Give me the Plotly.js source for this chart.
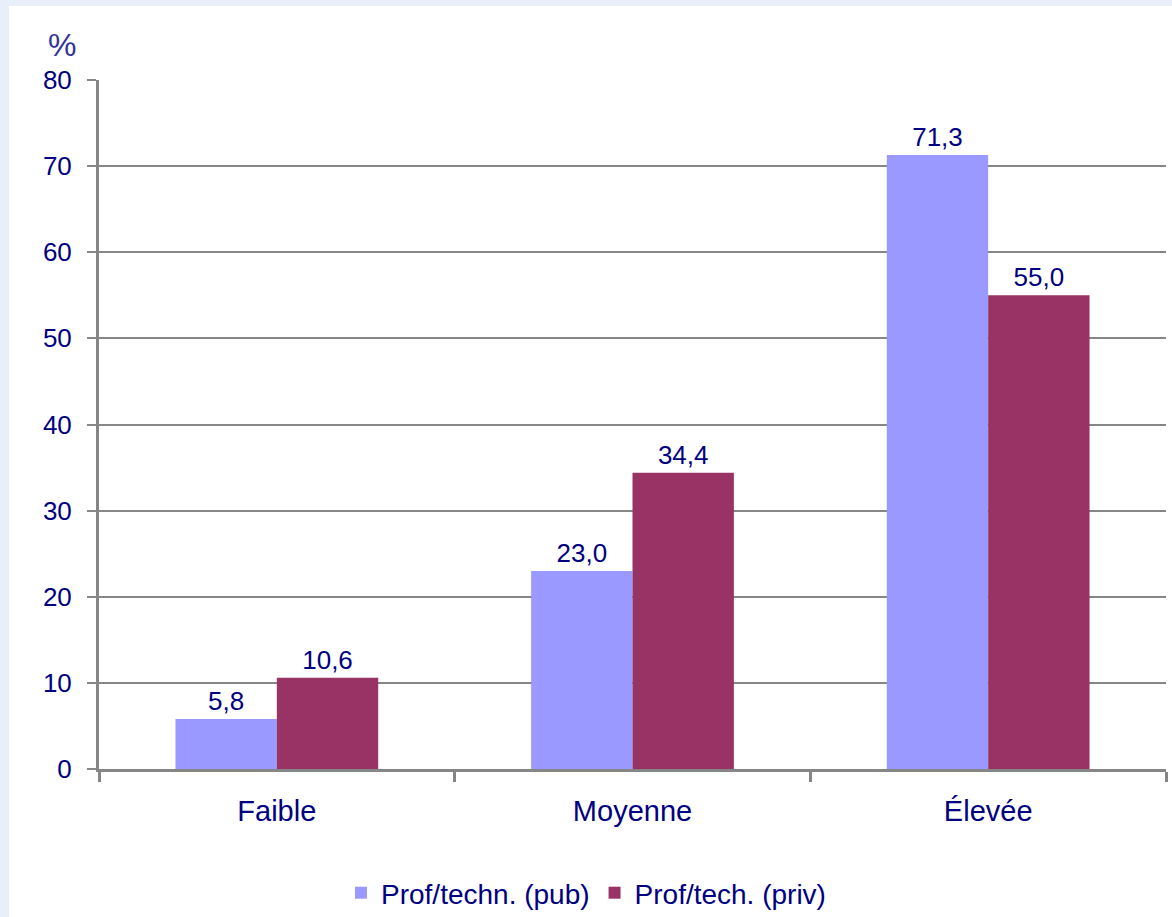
<!DOCTYPE html>
<html><head><meta charset="utf-8">
<script src="https://cdn.plot.ly/plotly-3.0.1.min.js"></script>
<style>body{margin:0;padding:0;background:#E8EEFA}</style>
</head><body>
<div id="chart" style="width:1172px;height:917px"></div>
<script>
const categories = ["Faible", "Moyenne", "Élevée"];
const seriesNames = ["Prof/techn. (pub)", "Prof/tech. (priv)"];
const pubValues = [5.8, 23.0, 71.3];
const privValues = [10.6, 34.4, 55.0];
const yTicks = [0, 10, 20, 30, 40, 50, 60, 70, 80];

const navy = "#000080";
const fam = "Liberation Sans, Arial, sans-serif";
const f = (size, color) => ({family: fam, size: size, color: color || navy});

const common = {
  type: "bar", x: categories, textposition: "outside", cliponaxis: false,
  texttemplate: "%{y:.1f}", textfont: f(26),
  hoverinfo: "skip"
};
const data = [
  Object.assign({}, common, {name: seriesNames[0], y: pubValues, marker: {color: "#9999FF"}}),
  Object.assign({}, common, {name: seriesNames[1], y: privValues, marker: {color: "#993366"}})
];

const layout = {
  width: 1172, height: 917,
  paper_bgcolor: "#E8EEFA", plot_bgcolor: "#FFFFFF",
  separators: ", ",
  margin: {l: 99, r: 6, t: 80, b: 148, autoexpand: false},
  barmode: "group", bargap: 0.43, bargroupgap: 0,
  font: f(24),
  xaxis: {
    showgrid: false, showline: true, linecolor: "#868686", linewidth: 3,
    ticks: "outside", tickson: "boundaries", ticklen: 10, tickwidth: 3, tickcolor: "#868686",
    tickfont: f(29), ticklabelstandoff: 14, zeroline: false, fixedrange: true
  },
  yaxis: {
    range: [0, 80], tickvals: yTicks, showgrid: true, gridcolor: "#868686", gridwidth: 2,
    showline: true, linecolor: "#868686", linewidth: 3, zeroline: false,
    ticks: "outside", ticklen: 9, tickwidth: 2, tickcolor: "#868686",
    tickfont: f(26), ticklabelstandoff: 10, fixedrange: true
  },
  showlegend: true,
  legend: {
    orientation: "h", x: 0.5, xref: "container", xanchor: "center",
    y: 24/917, yref: "container", yanchor: "middle",
    font: f(28), bgcolor: "rgba(0,0,0,0)",
    itemwidth: 30, traceorder: "normal"
  },
  shapes: [{
    type: "rect", xref: "paper", yref: "paper", layer: "below",
    x0: -90/1067, x1: 1.1, y0: -0.3, y1: 1 + 74/689,
    fillcolor: "#FFFFFF", line: {width: 0}
  }],
  annotations: [{
    text: "%", xref: "paper", yref: "paper", x: -37/1067, y: 1 + 35/689,
    xanchor: "center", yanchor: "middle", showarrow: false,
    font: f(32, "#333399")
  }]
};

Plotly.newPlot("chart", data, layout, {displayModeBar: false, staticPlot: true});
</script>
</body></html>
